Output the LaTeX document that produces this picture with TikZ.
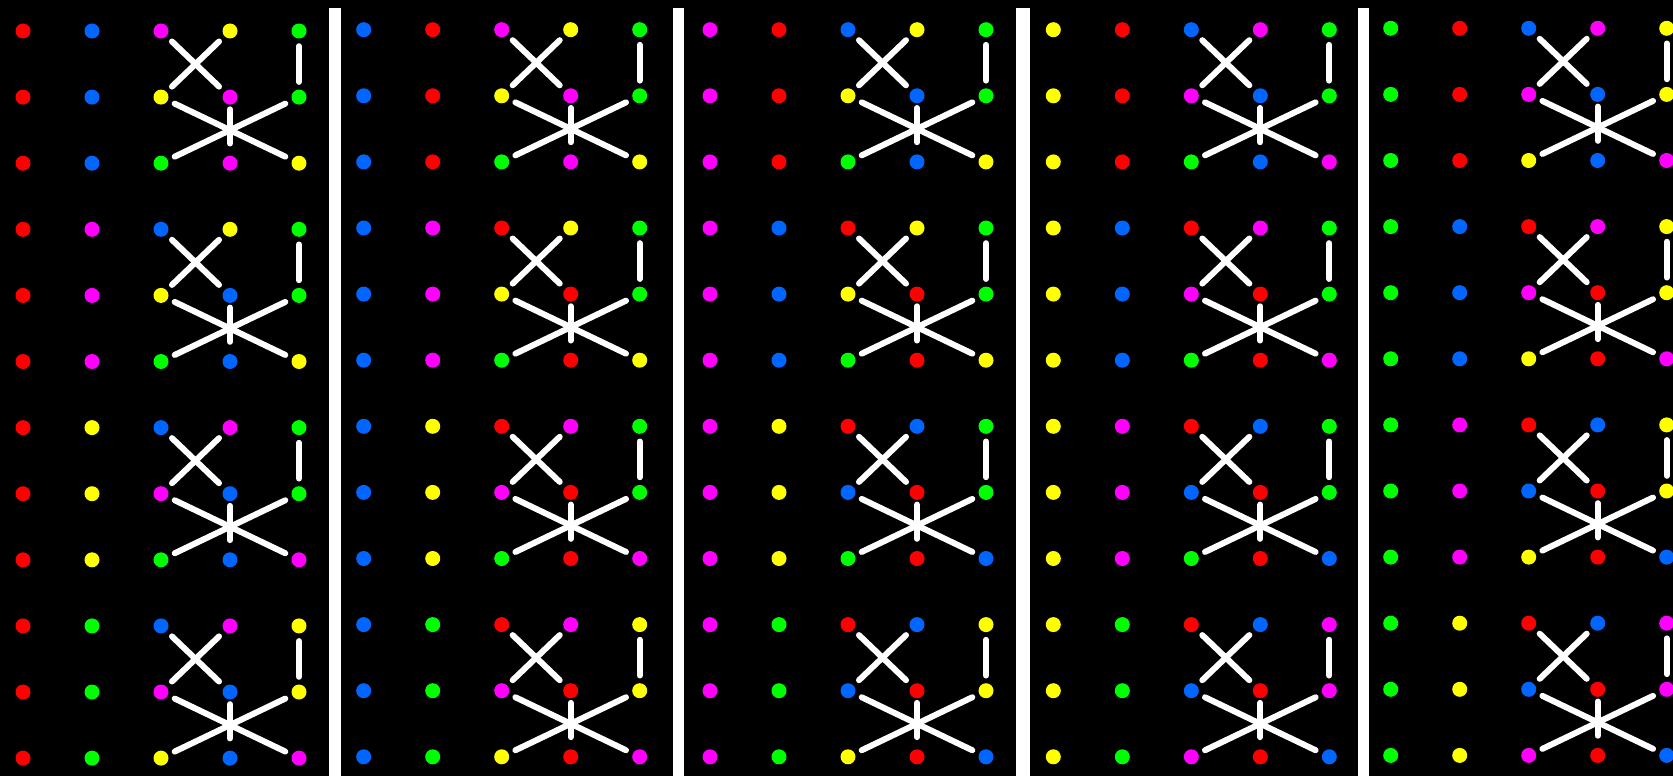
\documentclass[tikz,border=0pt]{standalone}
\definecolor{cR}{RGB}{255,0,0}
\definecolor{cB}{RGB}{0,102,255}
\definecolor{cM}{RGB}{255,0,255}
\definecolor{cY}{RGB}{255,255,0}
\definecolor{cG}{RGB}{0,255,0}
\tikzset{
  pdot/.style={circle, inner sep=0pt, minimum size=15pt, draw=none},
  lnk/.style={draw=white, line width=6pt, line cap=round, shorten <=7.5pt, shorten >=7.5pt},
  sepbar/.style={fill=white}
}
\newcommand\drawpanel[4]{%
  \foreach \row [count=\r] in {#4} {%
    \foreach \col [count=\k] in \row {%
      \node[pdot, fill=c\col] (p#1-\r-\k) at ({#2+69*(\k-1)},{#3+66.1*(\r-1)}) {};%
    }%
  }%
}
\begin{document}
\begin{tikzpicture}[x=1pt, y=-1pt]
\useasboundingbox (0,0) rectangle (1673,776);
\fill[black] (0,0) rectangle (1673,776);
% separator bars
\fill[sepbar] (329.3,8) rectangle (340.7,776);
\fill[sepbar] (672.5,8) rectangle (684.3,776);
\fill[sepbar] (1016.3,8) rectangle (1030,776);
\fill[sepbar] (1357.8,8) rectangle (1369.3,776);
% dots
\drawpanel{1}{23}{31}{{R,B,M,Y,G},{R,B,Y,M,G},{R,B,G,M,Y},{R,M,B,Y,G},{R,M,Y,B,G},{R,M,G,B,Y},{R,Y,B,M,G},{R,Y,M,B,G},{R,Y,G,B,M},{R,G,B,M,Y},{R,G,M,B,Y},{R,G,Y,B,M}}
\drawpanel{2}{363.7}{29.7}{{B,R,M,Y,G},{B,R,Y,M,G},{B,R,G,M,Y},{B,M,R,Y,G},{B,M,Y,R,G},{B,M,G,R,Y},{B,Y,R,M,G},{B,Y,M,R,G},{B,Y,G,R,M},{B,G,R,M,Y},{B,G,M,R,Y},{B,G,Y,R,M}}
\drawpanel{3}{710}{29.7}{{M,R,B,Y,G},{M,R,Y,B,G},{M,R,G,B,Y},{M,B,R,Y,G},{M,B,Y,R,G},{M,B,G,R,Y},{M,Y,R,B,G},{M,Y,B,R,G},{M,Y,G,R,B},{M,G,R,B,Y},{M,G,B,R,Y},{M,G,Y,R,B}}
\drawpanel{4}{1053.3}{29.7}{{Y,R,B,M,G},{Y,R,M,B,G},{Y,R,G,B,M},{Y,B,R,M,G},{Y,B,M,R,G},{Y,B,G,R,M},{Y,M,R,B,G},{Y,M,B,R,G},{Y,M,G,R,B},{Y,G,R,B,M},{Y,G,B,R,M},{Y,G,M,R,B}}
\drawpanel{5}{1390.7}{28.3}{{G,R,B,M,Y},{G,R,M,B,Y},{G,R,Y,B,M},{G,B,R,M,Y},{G,B,M,R,Y},{G,B,Y,R,M},{G,M,R,B,Y},{G,M,B,R,Y},{G,M,Y,R,B},{G,Y,R,B,M},{G,Y,B,R,M},{G,Y,M,R,B}}
% connectors
\foreach \p in {1,...,5} {
  \foreach \g in {0,...,3} {
    \pgfmathtruncatemacro\ra{3*\g+1}
    \pgfmathtruncatemacro\rb{3*\g+2}
    \pgfmathtruncatemacro\rc{3*\g+3}
    \draw[lnk] (p\p-\ra-3) -- (p\p-\rb-4);
    \draw[lnk] (p\p-\ra-4) -- (p\p-\rb-3);
    \draw[lnk] (p\p-\ra-5) -- (p\p-\rb-5);
    \draw[lnk] (p\p-\rb-3) -- (p\p-\rc-5);
    \draw[lnk] (p\p-\rc-3) -- (p\p-\rb-5);
    \draw[lnk, shorten <=4.5pt, shorten >=12pt] (p\p-\rb-4) -- (p\p-\rc-4);
  }
}
\end{tikzpicture}
\end{document}
